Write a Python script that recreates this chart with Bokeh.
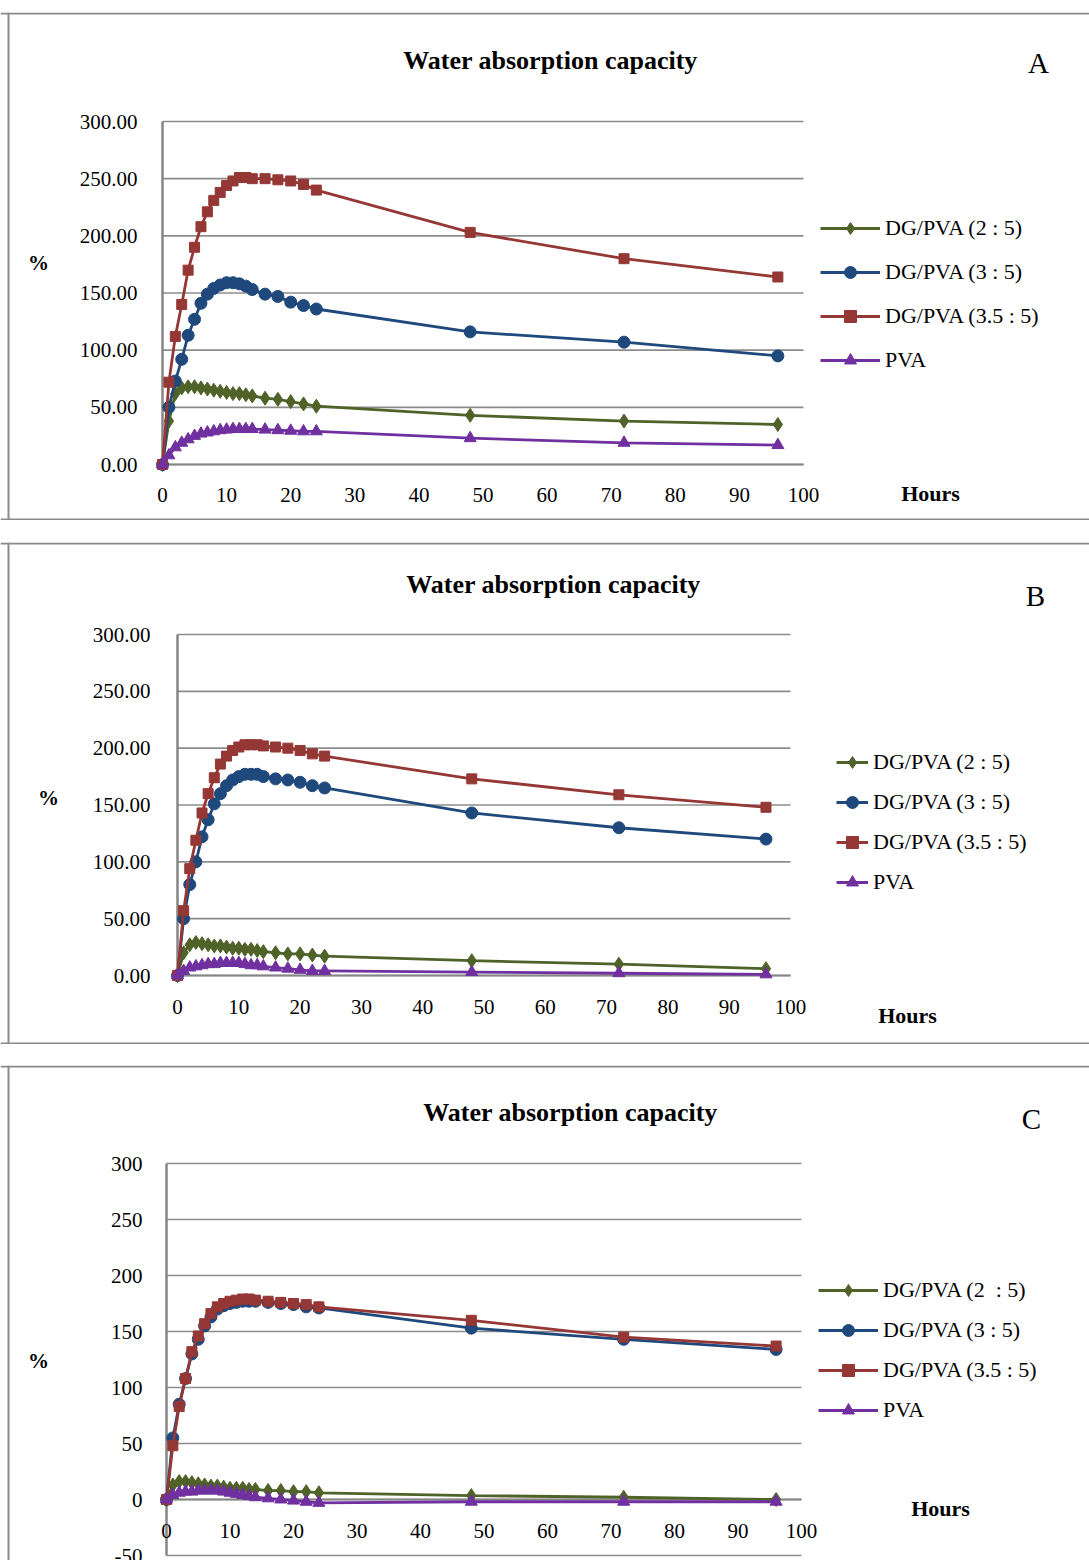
from bokeh.plotting import figure
from bokeh.models import Range1d, Label, Legend, LegendItem, Spacer, ColumnDataSource, Span
from bokeh.layouts import column
from bokeh.core.properties import value
from bokeh.embed import file_html
from bokeh.resources import INLINE

# ---------------- data ----------------
hours = [0, 1, 2, 3, 4, 5, 6, 7, 8, 9, 10, 11, 12, 13, 14, 16, 18, 20, 22, 24, 48, 72, 96]

series_names_AB = ["DG/PVA (2 : 5)", "DG/PVA (3 : 5)", "DG/PVA (3.5 : 5)", "PVA"]
series_names_C = ["DG/PVA (2  : 5)", "DG/PVA (3 : 5)", "DG/PVA (3.5 : 5)", "PVA"]

dg25_A = [0, 38, 62, 67, 68, 68, 67, 66, 65, 64, 63, 62, 62, 61, 60, 58, 57, 55, 53, 51, 43, 38, 35]
dg3_A = [0, 50, 73, 92, 113, 127, 141, 149, 154, 157, 159, 159, 158, 156, 153, 149, 147, 142, 139, 136, 116, 107, 95]
dg35_A = [0, 72, 112, 140, 170, 190, 208, 221, 231, 238, 244, 248, 251, 251, 250, 250, 249, 248, 245, 240, 203, 180, 164]
pva_A = [0, 8, 15, 19, 22, 25, 27, 28, 29, 30, 30.5, 31, 31, 31, 31, 30.5, 30, 29.5, 29, 29, 23, 19, 17]

dg25_B = [0, 20, 27, 29, 28, 27, 26, 26, 25, 24, 24, 23, 23, 22, 21, 20, 19, 19, 18, 17, 13, 10, 6]
dg3_B = [0, 50, 80, 100, 122, 137, 151, 160, 167, 172, 175, 177, 177, 177, 175, 173, 172, 170, 167, 165, 143, 130, 120]
dg35_B = [0, 57, 94, 119, 143, 160, 174, 186, 193, 198, 201, 203, 203, 203, 202, 201, 200, 198, 195, 193, 173, 159, 148]
pva_B = [0, 4, 7, 8, 9, 10, 10, 11, 11, 11, 11, 10, 9, 9, 8, 7, 6, 5, 4, 4, 3, 2, 1]

dg25_C = [0, 13, 16, 16, 15, 14, 13, 12, 12, 11, 10, 10, 10, 9, 9, 8, 8, 7, 7, 6, 3.5, 2, 0]
dg3_C = [0, 55, 85, 108, 130, 143, 155, 163, 170, 173, 175, 176, 177, 177, 177, 176, 175, 174, 172, 171, 153, 143, 134]
dg35_C = [0, 48, 83, 108, 132, 146, 157, 166, 172, 175, 177, 178, 179, 179, 178, 177, 176, 175, 174, 172, 160, 145, 137]
pva_C = [0, 4, 6, 7, 7, 8, 8, 8, 8, 7, 6, 5, 4, 3, 2, 1, 0, -1, -2, -3, -2, -2, -2]

x_ticks = [0, 10, 20, 30, 40, 50, 60, 70, 80, 90, 100]
x_tick_labels = ["0", "10", "20", "30", "40", "50", "60", "70", "80", "90", "100"]
y_ticks_AB = [0, 50, 100, 150, 200, 250, 300]
y_tick_labels_AB = ["0.00", "50.00", "100.00", "150.00", "200.00", "250.00", "300.00"]
y_ticks_C = [-50, 0, 50, 100, 150, 200, 250, 300]
y_tick_labels_C = ["-50", "0", "50", "100", "150", "200", "250", "300"]

# ---------------- style ----------------
FONT = "Liberation Serif"
COLORS = ["#4F6228", "#1F497D", "#953735", "#7030A0"]
MARKERS = ["diamond", "circle", "square", "triangle"]
MSIZES = [14, 12, 10, 12]
GRID = "#8c8c8c"
AXIS = "#868686"
BORDER = "#8a8a8a"
PAGE_L, PAGE_R = 0, 1089
LEG_H = 30


def make_panel(series, names, y_ticks, y_labels, cfg):
    top, H = cfg["top"], cfg["H"]
    bottom = top + H
    W = PAGE_R - PAGE_L
    x0px, x100px = cfg["xpx"]
    (ylo, ylo_px), (yhi, yhi_px) = cfg["ypx"]
    sx = (x100px - x0px) / 100.0
    sy = (ylo_px - yhi_px) / float(yhi - ylo)
    xr = Range1d((PAGE_L - x0px) / sx, (PAGE_R - x0px) / sx)
    yr = Range1d(ylo - (bottom - ylo_px) / sy, yhi + (yhi_px - top) / sy)

    p = figure(width=W, height=H, output_backend="svg", toolbar_location=None,
               x_range=xr, y_range=yr, min_border=0,
               x_axis_location=None, y_axis_location=None)
    p.outline_line_color = None
    p.grid.visible = False
    p.background_fill_color = "white"
    p.border_fill_color = "white"

    # panel border (left, top, bottom)
    p.add_layout(Span(location=xr.start + 8.0 / sx, dimension="height", line_color=BORDER, line_width=2))
    p.add_layout(Span(location=yr.end - 1.0 / sy, dimension="width", line_color=BORDER, line_width=2))
    if cfg["bottom_border"]:
        p.add_layout(Span(location=yr.start + 1.0 / sy, dimension="width", line_color=BORDER, line_width=2))

    # horizontal gridlines
    p.segment(x0=[0] * len(y_ticks), x1=[100] * len(y_ticks), y0=y_ticks, y1=y_ticks,
              line_color=GRID, line_width=1.6)
    # axis lines
    p.segment(x0=[0], x1=[0], y0=[min(y_ticks)], y1=[max(y_ticks)], line_color=AXIS, line_width=2.5)
    p.segment(x0=[0], x1=[100], y0=[0], y1=[0], line_color=AXIS, line_width=2)

    # tick labels
    ysrc = ColumnDataSource(dict(x=[0] * len(y_ticks), y=y_ticks, t=y_labels))
    p.text(x="x", y="y", text="t", source=ysrc, text_font=value(FONT), text_font_size="21px",
           text_align="right", text_baseline="middle", x_offset=-cfg["ystand"], text_color="black")
    xsrc = ColumnDataSource(dict(x=x_ticks, y=[0] * len(x_ticks), t=x_tick_labels))
    p.text(x="x", y="y", text="t", source=xsrc, text_font=value(FONT), text_font_size="21px",
           text_align="center", text_baseline="middle", y_offset=cfg["xstand"], text_color="black")

    items = []
    for ys, name, col, mk, ms in zip(series, names, COLORS, MARKERS, MSIZES):
        lr = p.line(hours, ys, line_color=col, line_width=2.8)
        sr = p.scatter(hours, ys, marker=mk, size=ms, fill_color=col, line_color=col)
        items.append(LegendItem(label=name, renderers=[lr, sr]))

    lx, lcenter, lsp, gw = cfg["legend"]
    n = len(items)
    lh = n * LEG_H + (n - 1) * lsp
    ltop = lcenter - LEG_H // 2
    leg = Legend(items=items, location=(int(lx - PAGE_L), int(bottom - (ltop + lh))),
                 orientation="vertical",
                 padding=0, margin=0, border_line_color=None, background_fill_alpha=0,
                 glyph_width=gw, glyph_height=LEG_H, label_height=LEG_H,
                 spacing=lsp, label_standoff=5,
                 label_text_font=FONT, label_text_font_size="22px", label_text_color="black",
                 label_text_baseline="middle")
    p.add_layout(leg)

    def lab(pos, text, size, bold=False):
        px, py = pos
        p.add_layout(Label(x=px - PAGE_L, y=bottom - py, x_units="screen", y_units="screen", text=text,
                           text_font=FONT, text_font_size=size,
                           text_font_style="bold" if bold else "normal",
                           text_align="center", text_baseline="middle", text_color="black"))

    lab(cfg["title"], "Water absorption capacity", "26px", bold=True)
    lab(cfg["letter_pos"], cfg["letter"], "29px")
    lab(cfg["pct"], "%", "21px", bold=True)
    lab(cfg["hours"], "Hours", "22px", bold=True)
    return p


cfgA = dict(top=12, H=508, xpx=(162, 803), ypx=((0, 464), (300, 121)), ystand=25, xstand=30,
            bottom_border=True, legend=(820, 228, 14, 60),
            title=(550, 60), letter="A", letter_pos=(1038, 62), pct=(38, 262), hours=(930, 493))
cfgB = dict(top=542, H=502, xpx=(177, 790), ypx=((0, 975), (300, 634)), ystand=27, xstand=31,
            bottom_border=True, legend=(836, 762, 10, 32),
            title=(553, 584), letter="B", letter_pos=(1035, 595), pct=(48, 797), hours=(907, 1015))
cfgC = dict(top=1065, H=495, xpx=(166, 801), ypx=((-50, 1555), (300, 1163)), ystand=24, xstand=31,
            bottom_border=False, legend=(818, 1290, 10, 60),
            title=(570, 1112), letter="C", letter_pos=(1031, 1118), pct=(38, 1360), hours=(940, 1508))

pA = make_panel([dg25_A, dg3_A, dg35_A, pva_A], series_names_AB, y_ticks_AB, y_tick_labels_AB, cfgA)
pB = make_panel([dg25_B, dg3_B, dg35_B, pva_B], series_names_AB, y_ticks_AB, y_tick_labels_AB, cfgB)
pC = make_panel([dg25_C, dg3_C, dg35_C, pva_C], series_names_C, y_ticks_C, y_tick_labels_C, cfgC)

layout = column(Spacer(height=12), pA, Spacer(height=22), pB, Spacer(height=21), pC)

open("out.html", "w").write(file_html(layout, INLINE))
